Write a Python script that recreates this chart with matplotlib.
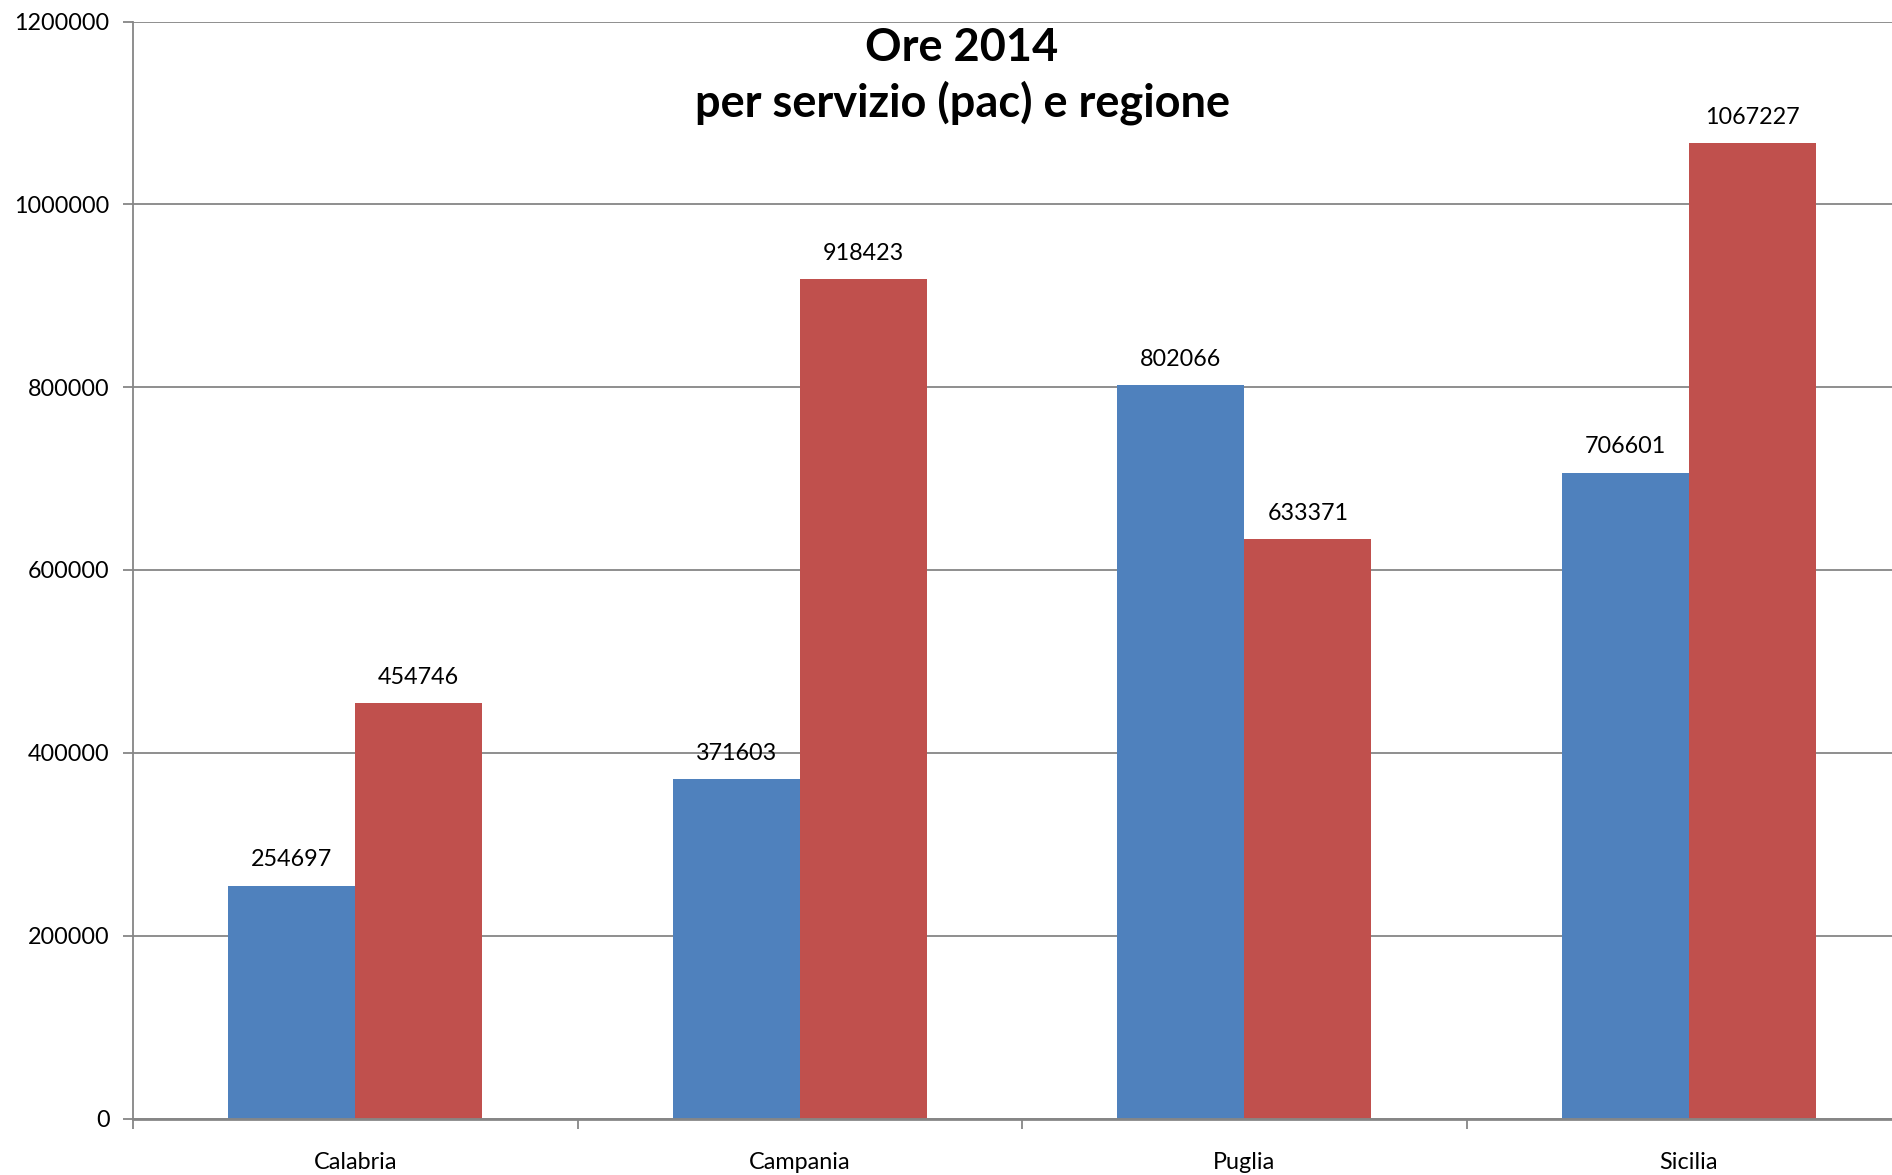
import matplotlib
matplotlib.use("Agg")
import matplotlib.pyplot as plt
import numpy as np

# Ore 2014 per servizio (pac) e regione
regions = ["Calabria", "Campania", "Puglia", "Sicilia"]
serie_blu = [254697, 371603, 802066, 706601]
serie_rossa = [454746, 918423, 633371, 1067227]
y_ticks = [0, 200000, 400000, 600000, 800000, 1000000, 1200000]

plt.rcParams['font.family'] = ['Lato', 'DejaVu Sans']

fig = plt.figure(figsize=(18.92, 11.75), dpi=100)
ax = fig.add_axes([133 / 1892, 56.5 / 1175, 1778 / 1892, 1097 / 1175])

x = np.arange(len(regions)) + 0.5
w = 1 / 3.5
blue = "#4F81BD"
red = "#C0504D"
grid_c = "#868686"
fs = 16.8

b1 = ax.bar(x - w / 2, serie_blu, width=w, color=blue, zorder=3)
b2 = ax.bar(x + w / 2, serie_rossa, width=w, color=red, zorder=3)

for bars, vals in ((b1, serie_blu), (b2, serie_rossa)):
    for r, v in zip(bars, vals):
        ax.annotate(str(v), (r.get_x() + r.get_width() / 2, v),
                    xytext=(0, 11), textcoords="offset points",
                    ha="center", va="bottom", fontsize=fs)

ax.set_xlim(0, len(regions))
ax.set_ylim(0, 1200000)
ax.set_yticks(y_ticks)
ax.set_yticklabels([str(t) for t in y_ticks], fontsize=fs)
ax.yaxis.grid(True, color=grid_c, linewidth=1.3, zorder=0)

ax.set_xticks(np.arange(len(regions) + 1))
ax.set_xticklabels([])
ax.set_xticks(x, minor=True)
ax.set_xticklabels(regions, minor=True, fontsize=fs)
ax.tick_params(axis="x", which="minor", length=0, pad=24)
ax.tick_params(axis="x", which="major", length=7, width=1.3, color=grid_c, direction="out")
ax.tick_params(axis="y", length=7, width=1.3, color=grid_c, pad=10)

for s in ("top", "right"):
    ax.spines[s].set_visible(False)
ax.spines["left"].set_color(grid_c)
ax.spines["left"].set_linewidth(1.3)
ax.spines["bottom"].set_color(grid_c)
ax.spines["bottom"].set_linewidth(2)
ax.spines["bottom"].set_zorder(4)

fig.text(962 / 1892, 1 - 76 / 1175, "Ore 2014\nper servizio (pac) e regione",
         ha="center", va="center", fontsize=32.5, fontweight="bold", linespacing=1.33)

fig.savefig("out.png", dpi=100)
